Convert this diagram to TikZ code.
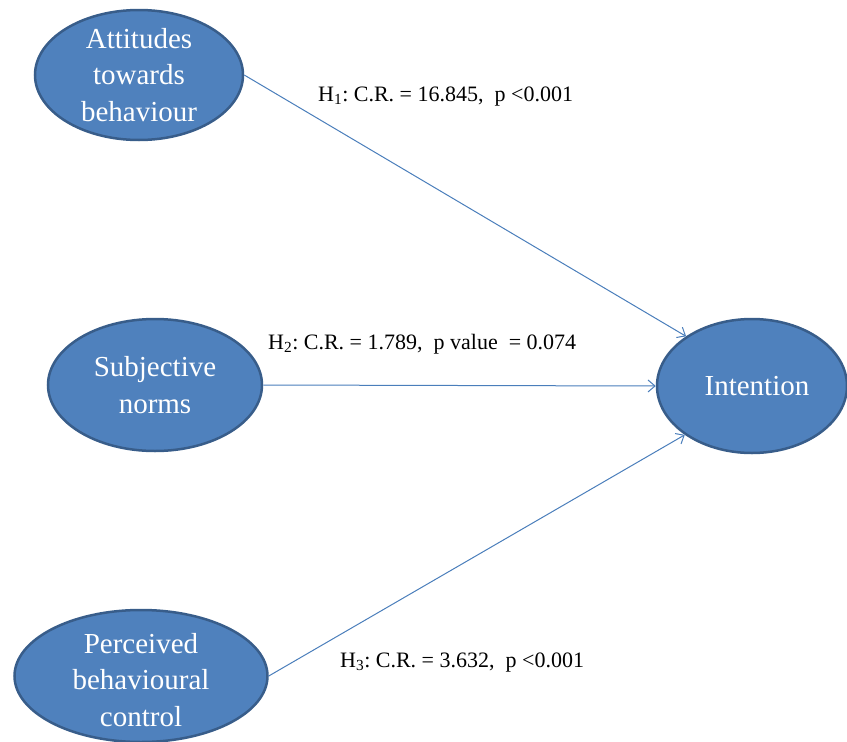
\documentclass[tikz,border=0pt]{standalone}
\usepackage{fontspec}
\setmainfont{Liberation Serif}
\usetikzlibrary{shapes.geometric, arrows.meta}

\definecolor{factorfill}{HTML}{4F81BD}
\definecolor{factorline}{HTML}{385D8A}
\definecolor{pathline}{HTML}{4A7EBB}

\tikzset{
    factor/.style={ellipse, draw=factorline, line width=2.5pt, fill=factorfill, inner sep=0pt},
    factortext/.style={draw=none, fill=none, text=white, align=center, font=\fontsize{29}{36.5}\selectfont},
    pathlabel/.style={draw=none, fill=none, anchor=base west, inner sep=0pt, font=\fontsize{22}{26}\selectfont},
    path/.style={draw=pathline, line width=1pt, -{Straight Barb[length=7pt, width=12pt]}}
}

\begin{document}
\begin{tikzpicture}[x=1pt, y=-1pt]
            \useasboundingbox (0,0) rectangle (847,742);
            \foreach \n/\x/\y/\w/\h in {att/139/75/208/130, sub/155/385/214/132, pbc/141/676/253/132, int/752/386/190/134} {
                \node[factor, minimum width=\w, minimum height=\h] (\n) at (\x,\y) {};
            }
            \node[factortext] (att-t) at (att) {Attitudes\\towards\\behaviour};
            \node[factortext] (sub-t) at (sub) {Subjective\\norms};
            \node[factortext] (pbc-t) at ([yshift=-4]pbc) {Perceived\\behavioural\\control};
            \node[factortext] (int-t) at ([xshift=5]int) {Intention};

            \draw[path] (att.east) -- (int.143);
            \draw[path] (sub.east) -- (int.west);
            \draw[path] (pbc.east) -- (int.216);

            \node[pathlabel] (h1) at (318,101) {H\textsubscript{1}:\ C.R. = 16.845,\ \ p <0.001};
            \node[pathlabel] (h2) at (268,349) {H\textsubscript{2}:\ C.R. = 1.789,\ \ p value\ \ = 0.074};
            \node[pathlabel] (h3) at (340,667) {H\textsubscript{3}:\ C.R. = 3.632,\ \ p <0.001};
        \end{tikzpicture}
\end{document}
